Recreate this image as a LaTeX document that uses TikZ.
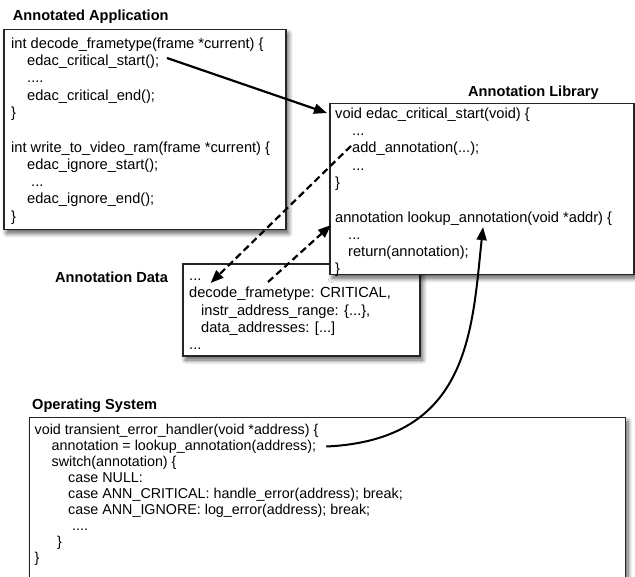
\documentclass[tikz,border=0pt]{standalone}
\usepackage{fontspec}
\setmainfont{Liberation Sans}
\usetikzlibrary{arrows.meta,shadows.blur}

\tikzset{
  code/.style={anchor=base west, inner sep=0pt, font=\fontsize{14.65}{17.3}\selectfont},
  oscode/.style={anchor=base west, inner sep=0pt, font=\fontsize{14.3}{16}\selectfont},
  heading/.style={anchor=base west, inner sep=0pt, font=\fontsize{14.6}{17}\selectfont\bfseries},
  panel/.style={draw=black!85, line width=1.1pt, fill=white, anchor=north west,
    inner sep=0pt, outer sep=0pt,
    blur shadow={shadow xshift=2.5pt, shadow yshift=-4pt, shadow blur radius=4.5pt,
      shadow blur steps=8, shadow opacity=65}},
  callarrow/.style={line width=2.2pt, -{Triangle[length=13pt,width=10pt]}},
  dataarrow/.style={callarrow, dash pattern=on 7pt off 4pt},
}

\begin{document}
\begin{tikzpicture}[x=1pt,y=-1pt]
\useasboundingbox (0,0) rectangle (635,577);

% --- application code -------------------------------------------------
\node[heading] (appTitle) at (12.7,20.5) {Annotated Application};
\node[panel, minimum width=282pt, minimum height=200pt] (appBox) at (4,29.3) {};
\node[code] (app0) at (11,48.3) {int decode\_frametype(frame *current) \{};
\node[code] (app1) at (27,65.6) {edac\_critical\_start();};
\node[code] (app2) at (27,82.9) {....};
\node[code] (app3) at (27,100.2) {edac\_critical\_end();};
\node[code] (app4) at (11,117.5) {\}};
\node[code] (app5) at (11,152.1) {int write\_to\_video\_ram(frame *current) \{};
\node[code] (app6) at (27,169.4) {edac\_ignore\_start();};
\node[code] (app7) at (31,186.7) {...};
\node[code] (app8) at (27,204) {edac\_ignore\_end();};
\node[code] (app9) at (11,221.3) {\}};

% --- annotation data ----------------------------------------------------
\node[heading] (dataTitle) at (55,282.7) {Annotation Data};
\node[panel, minimum width=237pt, minimum height=92pt] (dataBox) at (183,264) {};
\node[code] (data0) at (189,280.7) {...};
\node[code] (data1) at (189,298) {decode\_frametype: CRITICAL,};
\node[code] (data2) at (201,315.3) {instr\_address\_range: \{...\},};
\node[code] (data3) at (201,332.6) {data\_addresses: [...]};
\node[code] (data4) at (189,349.9) {...};

% --- annotation library -------------------------------------------------
\node[heading] (libTitle) at (468,96.5) {Annotation Library};
\node[panel, minimum width=304pt, minimum height=171pt] (libBox) at (330,103.3) {};
\node[code] (lib0) at (335,118.3) {void edac\_critical\_start(void) \{};
\node[code] (lib1) at (352,135.6) {...};
\node[code] (lib2) at (352,152.9) {add\_annotation(...);};
\node[code] (lib3) at (352,170.2) {...};
\node[code] (lib4) at (335,187.5) {\}};
\node[code] (lib5) at (335,222.1) {annotation lookup\_annotation(void *addr) \{};
\node[code] (lib6) at (348,239.4) {...};
\node[code] (lib7) at (348,256.7) {return(annotation);};
\node[code] (lib8) at (335,273.5) {\}};

% --- operating system ---------------------------------------------------
\node[heading] (osTitle) at (32,409.5) {Operating System};
\node[panel, minimum width=596pt, minimum height=200pt] (osBox) at (29.5,417.3) {};
\node[oscode] (os0) at (34.5,434.5) {void transient\_error\_handler(void *address) \{};
\node[oscode] (os1) at (51.5,450.5) {annotation = lookup\_annotation(address);};
\node[oscode] (os2) at (51.5,466.5) {switch(annotation) \{};
\node[oscode] (os3) at (68,482.5) {case NULL:};
\node[oscode] (os4) at (68,498.5) {case ANN\_CRITICAL: handle\_error(address); break;};
\node[oscode] (os5) at (68,514.5) {case ANN\_IGNORE: log\_error(address); break;};
\node[oscode] (os6) at (72,530.5) {....};
\node[oscode] (os7) at (57,546.5) {\}};
\node[oscode] (os8) at (34.5,562.5) {\}};

% --- calls and data flow ------------------------------------------------
\draw[callarrow] ([shift={(7.7,-7.6)}]app1.base east) -- ([shift={(-8,-5.3)}]lib0.base west);
\draw[dataarrow] ([shift={(-1,-7)}]lib2.base west) -- ([shift={(9,2.3)}]data0.base east);
\draw[dataarrow] ([shift={(79,-16)}]data1.base west) -- ([shift={(-4,3)}]lib5.base west);
\coordinate (lookupTip) at ([shift={(148,5)}]lib5.base west);
\coordinate (osCall) at ([shift={(10,-4)}]os1.base east);
\draw[callarrow, line width=2pt] (osCall) .. controls (470,440) and (472,330) .. (lookupTip);
\end{tikzpicture}
\end{document}
